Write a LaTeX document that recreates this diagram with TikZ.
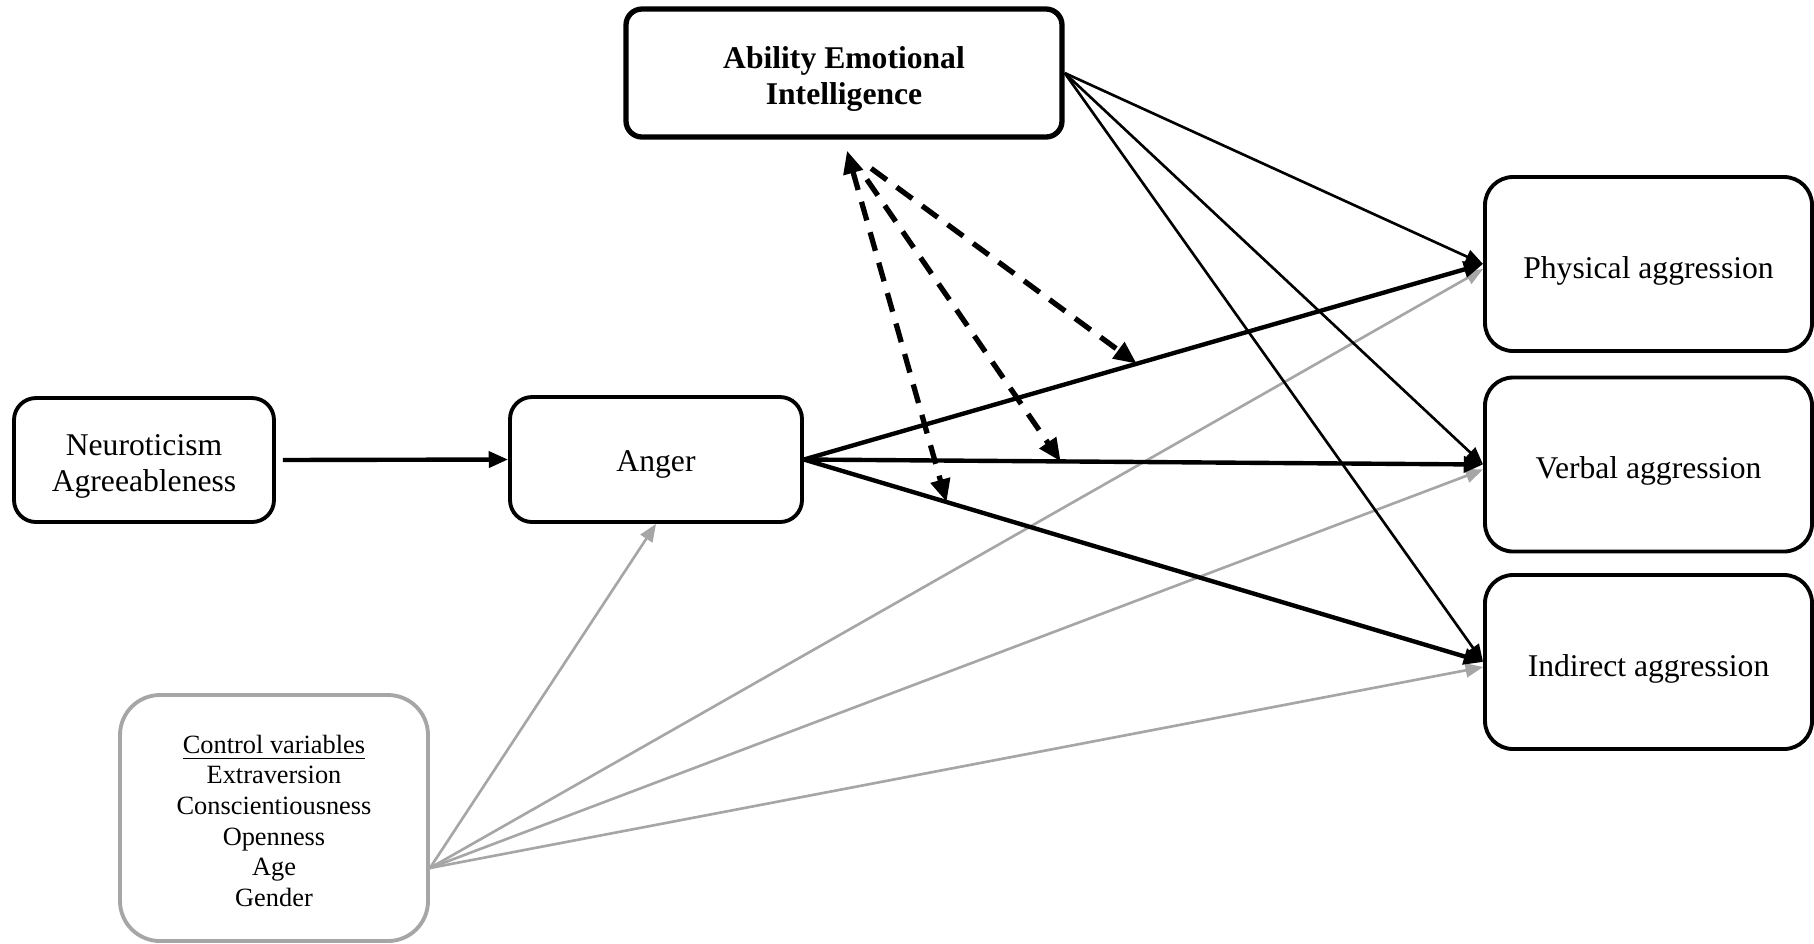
\documentclass[tikz,border=0pt]{standalone}
\usepackage{fontspec}
\setmainfont{Liberation Serif}
\usetikzlibrary{arrows.meta}

\newcommand{\upstrut}[1]{\rule{0pt}{#1}}

\tikzset{
  box/.style={draw=black, line width=1.1pt, rounded corners=0.22cm, align=center, inner sep=0pt, font=\fontsize{9}{10.2}\selectfont},
  outbox/.style={box, minimum width=3.27cm, minimum height=1.74cm, rounded corners=0.28cm},
  patharrow/.style={line width=1.25pt, -{Triangle[length=5.5pt,width=4.5pt]}},
  thinarrow/.style={line width=0.75pt, -{Triangle[length=5pt,width=4pt]}},
  grayarrow/.style={line width=0.75pt, draw=black!35, -{Triangle[length=5pt,width=4pt]}},
  modarrow/.style={line width=1.5pt, dash pattern=on 5.5pt off 3.5pt, -{Triangle[length=6.5pt,width=5.5pt]}}
}

\begin{document}
\begin{tikzpicture}
    \useasboundingbox (0,0) rectangle (18.14,-9.43);
    \node[box, line width=1.5pt, rounded corners=0.16cm, minimum width=4.36cm, minimum height=1.28cm, font=\bfseries\fontsize{9}{10.2}\selectfont] (aei) at (8.44,-0.73) {\upstrut{9.6pt}Ability Emotional\\Intelligence};
    \node[box, minimum width=2.60cm, minimum height=1.24cm] (neuro) at (1.44,-4.60) {\upstrut{9.6pt}Neuroticism\\Agreeableness};
    \node[box, minimum width=2.92cm, minimum height=1.25cm] (anger) at (6.56,-4.595) {\upstrut{9pt}Anger};
    \node[outbox] (phys) at (16.485,-2.64) {\upstrut{10pt}Physical aggression};
    \node[outbox] (verb) at (16.485,-4.645) {\upstrut{10pt}Verbal aggression};
    \node[outbox] (indir) at (16.485,-6.62) {\upstrut{10pt}Indirect aggression};
    \node[box, draw=black!35, minimum width=3.08cm, minimum height=2.46cm, rounded corners=0.4cm, font=\fontsize{7.5}{8.7}\selectfont] (ctrl) at (2.74,-8.18) {\upstrut{6.8pt}\underline{Control variables}\\Extraversion\\Conscientiousness\\Openness\\Age\\Gender};
    \coordinate (cv) at ([yshift=-0.5cm]ctrl.east);
    \coordinate (mod) at ([xshift=0.03cm,yshift=-0.11cm]aei.south);

    \draw[grayarrow] (cv) -- (anger.south);
    \draw[grayarrow] (cv) -- ([yshift=-0.05cm]phys.west);
    \draw[grayarrow] (cv) -- ([yshift=-0.05cm]verb.west);
    \draw[grayarrow] (cv) -- ([yshift=-0.05cm]indir.west);

    \draw[thinarrow] (aei.east) -- (phys.west);
    \draw[thinarrow] (aei.east) -- (verb.west);
    \draw[thinarrow] (aei.east) -- (indir.west);

    \draw[patharrow, shorten <=0.07cm] (neuro.east) -- (anger.west);
    \draw[patharrow] (anger.east) -- (phys.west) coordinate[pos=0.49] (mphys);
    \draw[patharrow] (anger.east) -- (verb.west) coordinate[pos=0.378] (mverb);
    \draw[patharrow] (anger.east) -- (indir.west) coordinate[pos=0.21] (mindir);

    \draw[modarrow, {Triangle[length=6.5pt,width=5.5pt]}-{Triangle[length=6.5pt,width=5.5pt]}] (mod) -- (mindir);
    \draw[modarrow, shorten <=0.35cm] (mod) -- (mverb);
    \draw[modarrow, shorten <=0.3cm] (mod) -- (mphys);
\end{tikzpicture}
\end{document}
